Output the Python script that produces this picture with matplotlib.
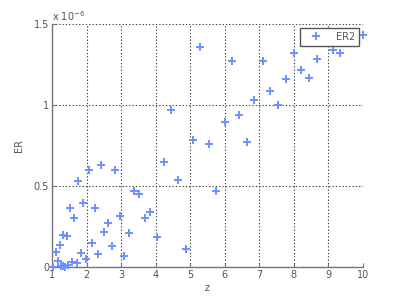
import matplotlib.pyplot as plt
import numpy as np

# z values and ER (in units of 1e-6)
z = np.array([1.04, 1.12, 1.17, 1.23, 1.31, 1.43, 1.27, 1.33, 1.38, 1.47,
              1.59, 1.71, 1.52, 1.65, 1.76, 1.91, 1.84, 1.97, 2.08, 2.24,
              2.16, 2.32, 2.42, 2.51, 2.61, 2.73, 2.83, 2.97, 3.09, 3.22,
              3.38, 3.53, 3.69, 3.84, 4.05, 4.23, 4.65, 4.87, 4.43, 5.07,
              5.27, 5.76, 5.53, 6.00, 6.42, 6.64, 6.86, 6.22, 7.10, 7.32,
              7.55, 7.78, 7.99, 8.22, 8.44, 8.67, 9.12, 9.33, 9.99])
er = np.array([0.00, 0.09, 0.04, 0.136, 0.198, 0.193, 0.004, 0.008, 0.00, 0.012,
               0.03, 0.023, 0.362, 0.30, 0.53, 0.393, 0.085, 0.048, 0.60, 0.366,
               0.146, 0.078, 0.63, 0.218, 0.27, 0.13, 0.60, 0.315, 0.07, 0.208,
               0.471, 0.449, 0.30, 0.338, 0.187, 0.65, 0.54, 0.109, 0.969, 0.784,
               1.36, 0.471, 0.76, 0.893, 0.936, 0.772, 1.03, 1.27, 1.27, 1.086,
               0.998, 1.16, 1.32, 1.218, 1.167, 1.284, 1.338, 1.32, 1.43])

xticks = [1, 2, 3, 4, 5, 6, 7, 8, 9, 10]
yticks = [0, 0.5, 1, 1.5]
ytick_labels = ['0', '0.5', '1', '1.5']

fig = plt.figure(figsize=(4, 3), dpi=100)
ax = fig.add_axes([0.13, 0.11, 0.7775, 0.81])

ax.plot(z, er, linestyle='none', marker='+', markersize=5.5, mew=1.4,
        color='#6f90ff', label='ER2', clip_on=False, zorder=3)

ax.set_xlim(1, 10)
ax.set_ylim(0, 1.5)
ax.set_xticks(xticks)
ax.set_xticklabels([str(t) for t in xticks])
ax.set_yticks(yticks)
ax.set_yticklabels(ytick_labels)

ax.grid(True, linestyle=(0, (1.2, 1.8)), color='#444444', linewidth=0.8)
for side in ['top', 'right']:
    ax.spines[side].set_visible(False)
for side in ['left', 'bottom']:
    ax.spines[side].set_color('#777777')
    ax.spines[side].set_linewidth(1.0)
ax.tick_params(direction='in', length=3, width=0.8, colors='#777777',
               labelsize=7, labelcolor='#555555', pad=2)

ax.set_xlabel('z', fontsize=7, color='#555555', labelpad=2)
ax.set_ylabel('ER', fontsize=7, color='#555555', labelpad=7)

ax.text(0.0, 1.005, r'x 10$^{-6}$', transform=ax.transAxes, fontsize=7,
        color='#555555', ha='left', va='bottom')

leg = ax.legend(loc='upper right', fontsize=7, fancybox=False, framealpha=1,
                edgecolor='#555555', borderpad=0.4, handlelength=2.5,
                borderaxespad=0, bbox_to_anchor=(0.987, 0.984))
leg.get_frame().set_linewidth(1.0)
for t in leg.get_texts():
    t.set_color('#555555')

fig.savefig('out.png', dpi=100, facecolor='white')
